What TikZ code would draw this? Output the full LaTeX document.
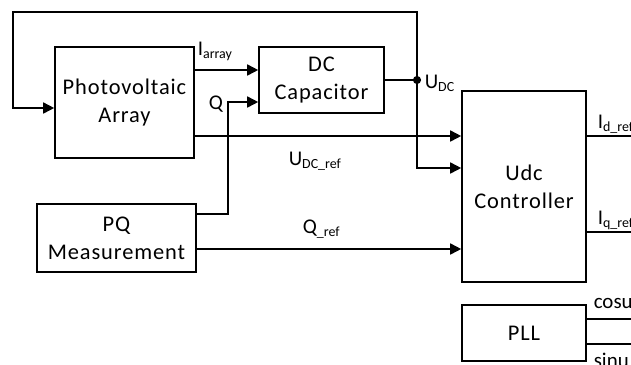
\documentclass[tikz,border=0pt]{standalone}
\usepackage{fontspec}
\setmainfont{Carlito}
\newfontfamily\boxfont[LetterSpace=4]{Carlito}
\usetikzlibrary{arrows.meta}
\newcommand{\lsub}[2]{#1\raisebox{-0.35ex}{\fontsize{14}{14}\selectfont #2}}
\begin{document}
\begin{tikzpicture}[x=1bp,y=-1bp,line width=1.6bp,
		bloc/.style={draw,align=center,inner sep=0pt,font=\boxfont\fontsize{22.5}{28}\selectfont},
		lab/.style={anchor=base west,inner sep=0pt,font=\fontsize{21}{21}\selectfont},
		fl/.style={-{Triangle[length=11bp,width=11bp]}}]%schema du controleur Udc
		
		\useasboundingbox (0,0) rectangle (631,364);
		
		\node[bloc,minimum width=139bp,minimum height=111bp] (pv) at (124.5,102.5) {Photovoltaic\\Array};
		\node[bloc,minimum width=125bp,minimum height=66bp] (cap) at (321.5,80) {DC\\Capacitor};
		\node[bloc,minimum width=124bp,minimum height=191bp] (udc) at (524,186.5) {Udc\\Controller};
		\node[bloc,minimum width=159bp,minimum height=68bp] (pq) at (116.5,238) {PQ\\Measurement};
		\node[bloc,minimum width=124bp,minimum height=56bp] (pll) at (524,333) {PLL};
		
		\coordinate (nd) at (417,80);
		\coordinate (tl) at (13,12);
		\coordinate (qk) at (228,102);
		\filldraw (nd) circle (3.2);
		
		\draw[fl] (nd) |- (tl) |- (pv.west |- 0,108);
		\draw[fl] (nd) |- (udc.west |- 0,168);
		\draw (cap.east) -- (nd);
		\draw[fl] (pv.east |- 0,70) -- (cap.west |- 0,70);
		\draw[fl] (pq.east |- 0,214) -| (qk) -- (cap.west |- qk);
		\draw[fl] (pv.east |- 0,136) -- (udc.west |- 0,136);
		\draw[fl] (pq.east |- 0,249) -- (udc.west |- 0,249);
		
		% sorties
		\coordinate (id) at (631,136);
		\coordinate (iq) at (631,232);
		\coordinate (co) at (631,319);
		\coordinate (si) at (631,344);
		\draw (udc.east |- id) -- (id);
		\draw (udc.east |- iq) -- (iq);
		\draw (pll.east |- co) -- (co);
		\draw (pll.east |- si) -- (si);
		
		\node[lab] (li) at (197,55) {\lsub{I}{array}};
		\node[lab] (lq) at (208,109) {Q};
		\node[lab] (lu) at (424,88) {\lsub{U}{DC}};
		\node[lab] (lur) at (288,165) {\lsub{U}{DC\_ref}};
		\node[lab] (lqr) at (302,233) {\lsub{Q}{\_ref}};
		\node[lab] (lid) at (597,128) {\lsub{I}{d\_ref}};
		\node[lab] (liq) at (597,224) {\lsub{I}{q\_ref}};
		\node[lab] (lco) at (593,308) {cosu};
		\node[lab] (lsi) at (593,367) {sinu};
	\end{tikzpicture}
\end{document}
